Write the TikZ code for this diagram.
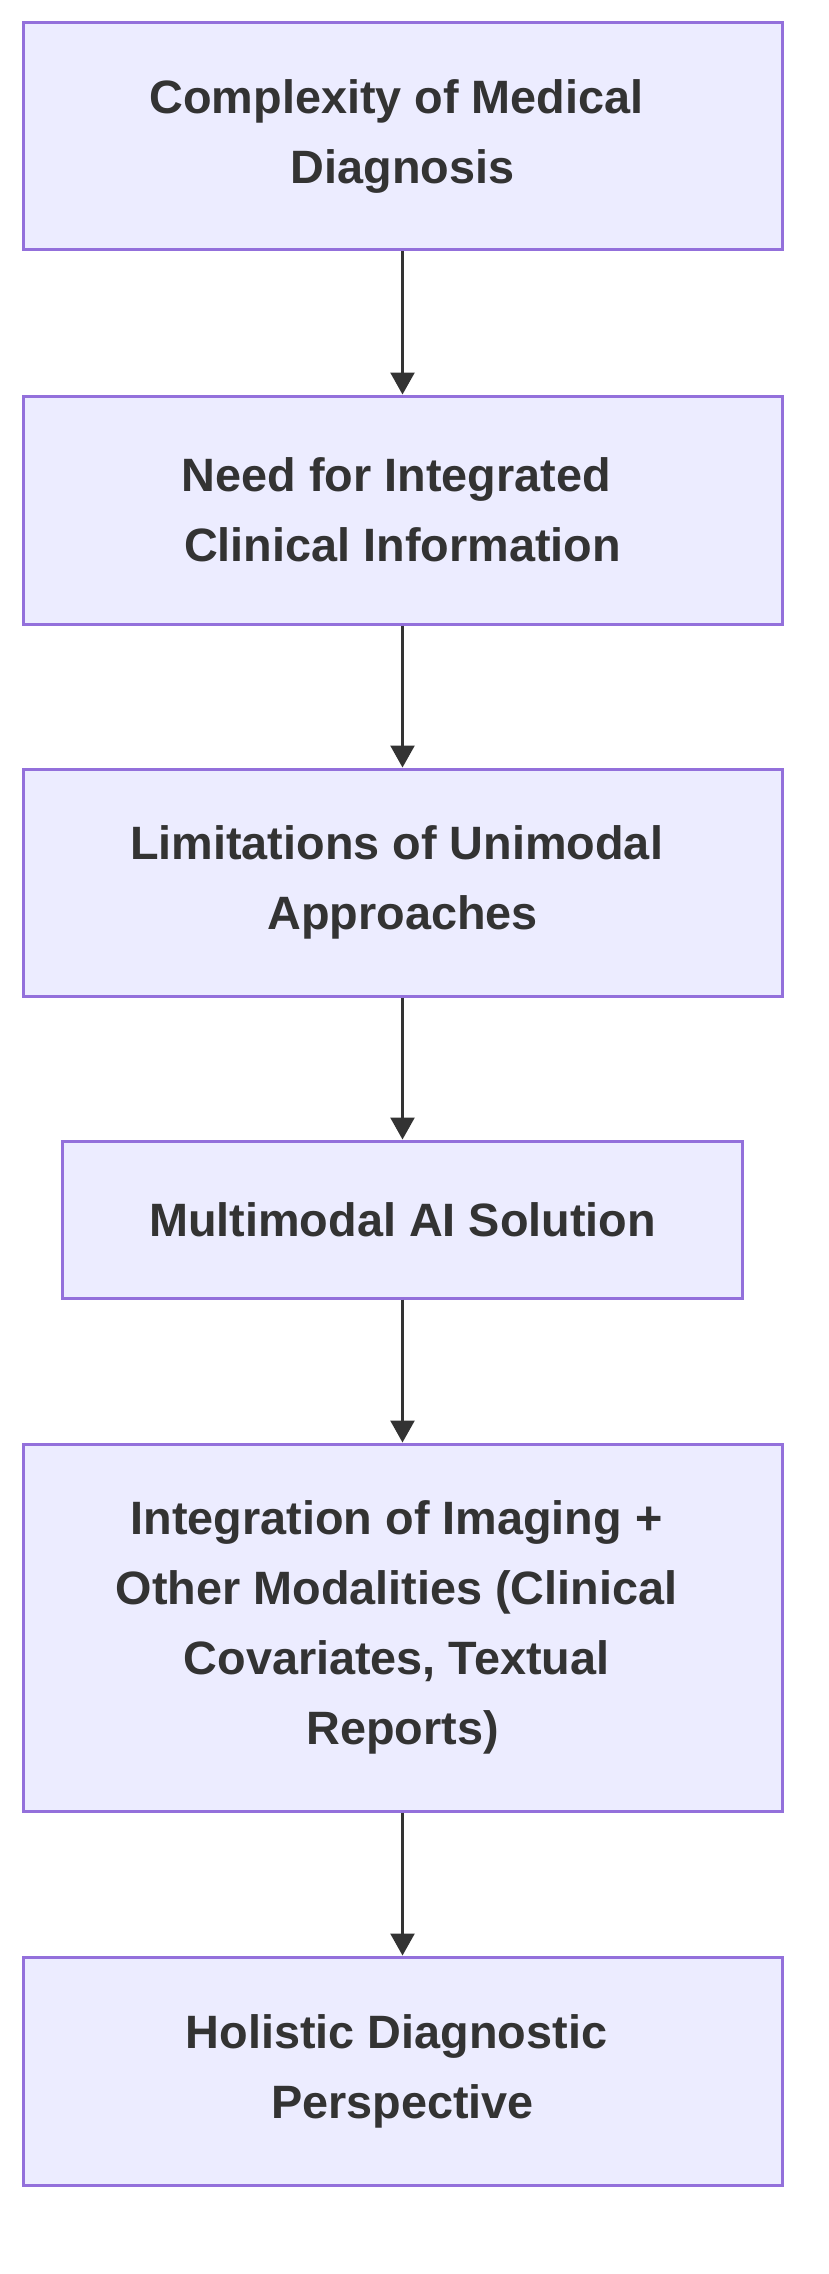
\documentclass[tikz,border=0pt]{standalone}
\usepackage{fontspec}
\setmainfont{Liberation Sans}
\usetikzlibrary{arrows.meta}
\definecolor{boxfill}{HTML}{ECECFF}
\definecolor{boxline}{HTML}{9370DB}
\definecolor{txt}{HTML}{333333}
\newcommand{\tsp}{\rule{12pt}{0pt}}
\tikzset{
  flowbox/.style={draw=boxline, fill=boxfill, line width=3pt, inner sep=0pt,
    minimum width=759pt, align=center, text=txt,
    font=\fontsize{46.8pt}{70pt}\selectfont\bfseries},
  flowarrow/.style={draw=txt, line width=2.5pt,
    -{Triangle[length=22pt,width=24pt]}, shorten >=0pt}
}
\begin{document}
\begin{tikzpicture}[x=1pt,y=-1pt]
\useasboundingbox (0,0) rectangle (828,2274);
\fill[white] (0,0) rectangle (828,2274);
\node[flowbox, minimum height=227pt] (a) at (402.5,136.5) {Complexity of Medical\tsp\\Diagnosis};
\node[flowbox, minimum height=228pt] (b) at (402.5,510) {Need for Integrated\tsp\\Clinical Information};
\node[flowbox, minimum height=227pt] (c) at (402.5,882.5) {Limitations of Unimodal\tsp\\Approaches};
\node[flowbox, minimum height=157pt, minimum width=680pt] (d) at (402.5,1219.5) {Multimodal AI Solution};
\node[flowbox, minimum height=367pt] (e) at (402.5,1627.5) {Integration of Imaging +\tsp\\Other Modalities (Clinical\tsp\\Covariates, Textual\tsp\\Reports)};
\node[flowbox, minimum height=228pt] (f) at (402.5,2071) {Holistic Diagnostic\tsp\\Perspective};
\draw[flowarrow] (a) -- (b);
\draw[flowarrow] (b) -- (c);
\draw[flowarrow] (c) -- (d);
\draw[flowarrow] (d) -- (e);
\draw[flowarrow] (e) -- (f);
\end{tikzpicture}
\end{document}
